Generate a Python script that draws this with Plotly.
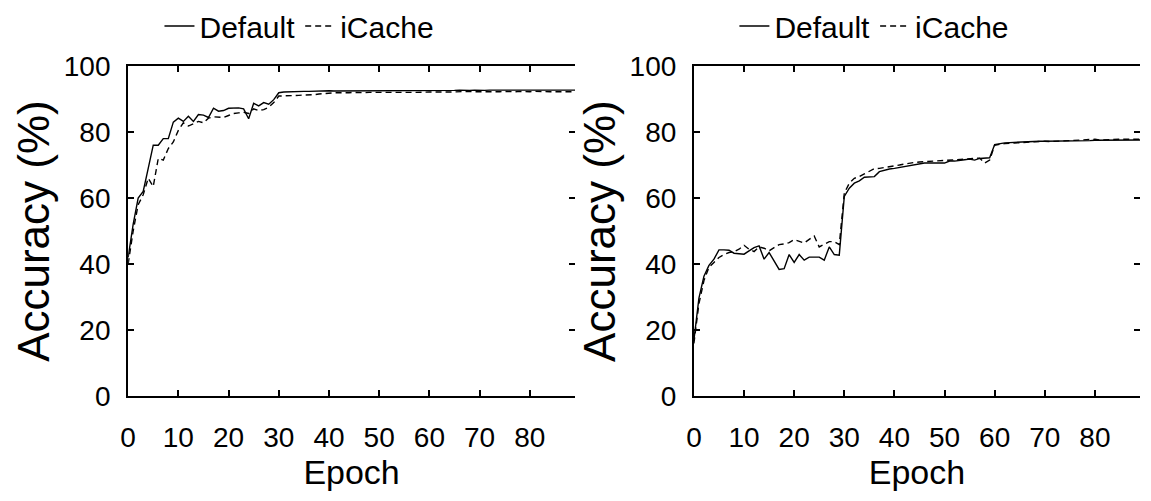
import plotly.graph_objects as go

# Test accuracy (%) per training epoch for two runs of each model
epochs = list(range(90))

left_default = [
    42.0, 52.0, 60.0, 62.0, 69.0, 76.0, 76.0, 78.0, 78.0, 83.0,
    84.2, 83.2, 84.8, 83.2, 85.3, 85.1, 84.4, 87.2, 86.3, 86.5,
    87.2, 87.2, 87.3, 87.0, 84.0, 88.7, 87.9, 88.9, 88.4, 89.8,
    91.9, 92.1, 92.2, 92.2, 92.3, 92.3, 92.3, 92.4, 92.3, 92.4,
    92.5, 92.4, 92.4, 92.5, 92.4, 92.5, 92.5, 92.4, 92.5, 92.5,
    92.4, 92.5, 92.6, 92.5, 92.5, 92.6, 92.5, 92.6, 92.6, 92.5,
    92.6, 92.6, 92.5, 92.6, 92.6, 92.6, 92.7, 92.6, 92.6, 92.7,
    92.6, 92.6, 92.7, 92.6, 92.7, 92.7, 92.6, 92.7, 92.7, 92.6,
    92.7, 92.7, 92.6, 92.7, 92.7, 92.7, 92.6, 92.7, 92.7, 92.7,
]
left_icache = [
    40.0, 50.0, 58.0, 61.0, 66.0, 63.5, 72.0, 71.5, 75.0, 77.0,
    80.5, 82.8, 81.8, 82.5, 83.2, 82.8, 84.2, 84.6, 84.5, 84.4,
    85.0, 85.6, 85.8, 86.0, 85.6, 87.0, 86.5, 86.8, 87.5, 88.9,
    90.9, 90.9, 90.9, 91.0, 91.1, 91.2, 91.2, 91.3, 91.5, 91.7,
    91.8, 91.9, 91.9, 91.8, 91.9, 92.0, 91.9, 91.9, 92.0, 91.9,
    92.0, 92.0, 91.9, 92.0, 92.0, 92.1, 92.0, 92.0, 92.1, 92.0,
    92.1, 92.1, 92.0, 92.1, 92.1, 92.2, 92.1, 92.2, 92.3, 92.2,
    92.1, 92.2, 92.2, 92.1, 92.2, 92.3, 92.2, 92.2, 92.3, 92.2,
    92.2, 92.3, 92.2, 92.3, 92.2, 92.2, 92.3, 92.2, 92.2, 92.2,
]
right_default = [
    17.0, 29.7, 36.3, 39.6, 41.5, 44.3, 44.3, 44.2, 43.3, 43.1,
    43.0, 44.0, 45.0, 45.5, 41.5, 43.5, 41.0, 38.4, 38.6, 42.9,
    40.5, 42.9, 41.2, 42.1, 42.1, 42.1, 41.2, 45.2, 42.9, 42.7,
    60.5, 63.0, 64.5, 65.2, 66.3, 66.3, 66.5, 68.0, 68.5, 68.8,
    69.0, 69.3, 69.6, 69.8, 70.0, 70.3, 70.6, 70.6, 70.7, 70.6,
    70.6, 71.2, 71.2, 71.5, 71.6, 71.8, 71.5, 72.0, 72.2, 72.2,
    76.2, 76.5, 76.7, 76.8, 76.9, 77.0, 77.0, 77.1, 77.1, 77.2,
    77.2, 77.2, 77.3, 77.3, 77.3, 77.3, 77.4, 77.4, 77.4, 77.4,
    77.5, 77.5, 77.5, 77.5, 77.6, 77.6, 77.6, 77.6, 77.6, 77.6,
]
right_icache = [
    16.0, 28.0, 35.0, 39.0, 40.5, 42.0, 42.9, 43.5, 43.8, 44.5,
    45.7, 44.5, 43.8, 45.2, 44.8, 44.0, 45.0, 45.9, 46.1, 46.5,
    47.4, 47.0, 46.4, 47.5, 48.5, 45.2, 46.0, 46.8, 46.8, 45.9,
    61.5, 64.5, 66.0, 66.5, 67.3, 68.0, 68.9, 69.0, 69.2, 69.4,
    69.7, 70.0, 70.3, 70.6, 70.8, 70.9, 71.0, 71.1, 71.2, 71.3,
    71.4, 71.5, 71.6, 71.7, 71.8, 72.0, 72.2, 72.1, 70.6, 71.5,
    76.0, 76.3, 76.5, 76.6, 76.7, 76.8, 76.8, 77.0, 77.1, 77.2,
    77.2, 77.1, 77.2, 77.3, 77.4, 77.3, 77.4, 77.5, 77.6, 77.7,
    77.8, 77.6, 77.7, 77.8, 77.7, 77.8, 77.8, 77.7, 77.8, 77.8,
]

x_ticks = [0, 10, 20, 30, 40, 50, 60, 70, 80]
y_ticks = [0, 20, 40, 60, 80, 100]

FONT = "Liberation Sans, Arial, sans-serif"
INK = "black"

fig = go.Figure()

panels = [
    ("x", "y", "legend", left_default, left_icache),
    ("x2", "y2", "legend2", right_default, right_icache),
]
for xa, ya, leg, solid, dashed in panels:
    fig.add_trace(go.Scatter(
        x=epochs, y=solid, xaxis=xa, yaxis=ya, mode="lines", name="Default",
        line=dict(color=INK, width=1.4), legend=leg,
    ))
    fig.add_trace(go.Scatter(
        x=epochs, y=dashed, xaxis=xa, yaxis=ya, mode="lines", name="iCache",
        line=dict(color=INK, width=1.4, dash="6px,4px"), legend=leg,
    ))

# empty traces so the right-hand tick-only axes are drawn
fig.add_trace(go.Scatter(x=[], y=[], xaxis="x", yaxis="y3", showlegend=False))
fig.add_trace(go.Scatter(x=[], y=[], xaxis="x2", yaxis="y4", showlegend=False))

x_dom = [[0.1051, 0.4961], [0.6001, 0.9904]]
y_dom = [0.1906, 0.8992]

def xaxis_style(dom, anchor):
    return dict(
        domain=dom, anchor=anchor, range=[0, 89], tickvals=x_ticks,
        showline=True, linecolor=INK, linewidth=2, mirror="ticks",
        ticks="inside", ticklen=6, tickwidth=2, tickcolor=INK,
        showgrid=False, zeroline=False, ticklabelstandoff=15,
        tickfont=dict(family=FONT, size=28, color=INK),
        title=dict(text="Epoch", font=dict(family=FONT, size=34, color=INK), standoff=4),
    )

def yaxis_style(anchor):
    return dict(
        domain=y_dom, anchor=anchor, range=[0, 100], tickvals=y_ticks,
        showline=True, linecolor=INK, linewidth=2, mirror=False,
        ticks="inside", ticklen=6, tickwidth=2, tickcolor=INK,
        showgrid=False, zeroline=False, ticklabelstandoff=10,
        tickfont=dict(family=FONT, size=28, color=INK),
        title=dict(text="Accuracy (%)", font=dict(family=FONT, size=44, color=INK), standoff=0),
    )

def right_ticks(anchor, over):
    return dict(
        domain=y_dom, anchor=anchor, overlaying=over, side="right",
        range=[0, 100], tickvals=y_ticks, showline=False,
        ticks="inside", ticklen=6, tickwidth=2, tickcolor=INK,
        showticklabels=False, showgrid=False, zeroline=False,
    )

legend_common = dict(
    orientation="h", xanchor="center", yanchor="middle", y=0.985,
    font=dict(family=FONT, size=30, color=INK), bgcolor="rgba(0,0,0,0)",
    itemwidth=30, tracegroupgap=0,
)

fig.update_layout(
    width=1151, height=501,
    margin=dict(l=0, r=0, t=0, b=0),
    paper_bgcolor="white", plot_bgcolor="white",
    xaxis=xaxis_style(x_dom[0], "y"),
    yaxis=yaxis_style("x"),
    xaxis2=xaxis_style(x_dom[1], "y2"),
    yaxis2=yaxis_style("x2"),
    yaxis3=right_ticks("x", "y"),
    yaxis4=right_ticks("x2", "y2"),
    legend=dict(x=0.255, **legend_common),
    legend2=dict(x=0.758, **legend_common),
)

fig.write_html("out.html")
